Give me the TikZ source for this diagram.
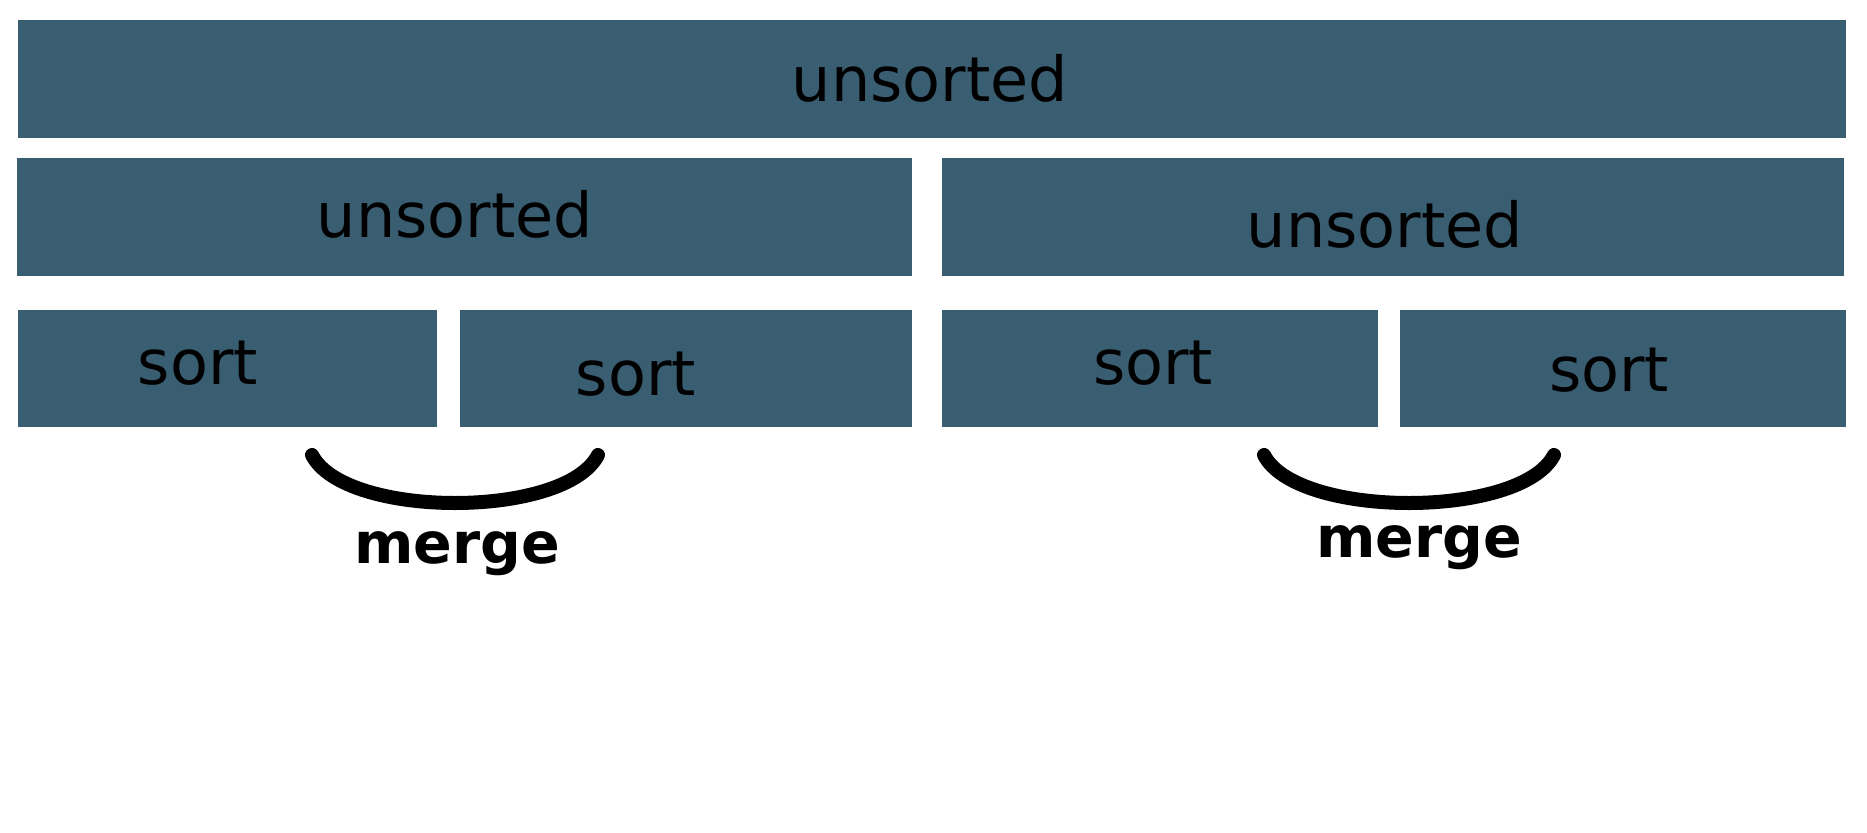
\documentclass[tikz,border=0pt]{standalone}
\usepackage{fontspec}
\setmainfont{DejaVu Sans}
\definecolor{boxblue}{RGB}{57,93,113}
\tikzset{blk/.style={fill=boxblue,draw=none,inner sep=0pt,anchor=north west},
  lbl/.style={anchor=base,inner sep=0pt,font=\fontsize{62}{70}\selectfont},
  mrglbl/.style={anchor=base,inner sep=0pt,font=\fontsize{57}{64}\selectfont\bfseries},
  mrgline/.style={line width=14pt,line cap=round}}
\begin{document}
\begin{tikzpicture}[x=1pt,y=-1pt]
\useasboundingbox (0,0) rectangle (1867,832);
% first level
\node[blk,minimum width=1828pt,minimum height=118pt] (all) at (18,20) {};
\node[lbl] (alltxt) at (930,102) {unsorted};
% second level
\node[blk,minimum width=895pt,minimum height=118pt] (left) at (17,158) {};
\node[blk,minimum width=902pt,minimum height=118pt] (right) at (942,158) {};
\node[lbl] (lefttxt) at (455,237) {unsorted};
\node[lbl] (righttxt) at (1385,247) {unsorted};
% third level
\foreach \x/\w/\n in {18/419/1,460/452/2,942/436/3,1400/446/4}
\node[blk,minimum width=\w pt,minimum height=117pt] (sort\n) at (\x,310) {};
\foreach \x/\y/\n in {198/384/1,636/395/2,1153/384/3,1609/391/4}
\node[lbl] (sorttxt\n) at (\x,\y) {sort};
% merges
\coordinate (m1a) at (312,455);
\coordinate (m1b) at (598,455);
\coordinate (m2a) at (1264,455);
\coordinate (m2b) at (1554,455);
\draw[mrgline] (m1a) .. controls (345,519) and (565,519) .. (m1b);
\draw[mrgline] (m2a) .. controls (1297,519) and (1521,519) .. (m2b);
\node[mrglbl] (merge1) at (457,563) {merge};
\node[mrglbl] (merge2) at (1419,557) {merge};
\end{tikzpicture}
\end{document}
